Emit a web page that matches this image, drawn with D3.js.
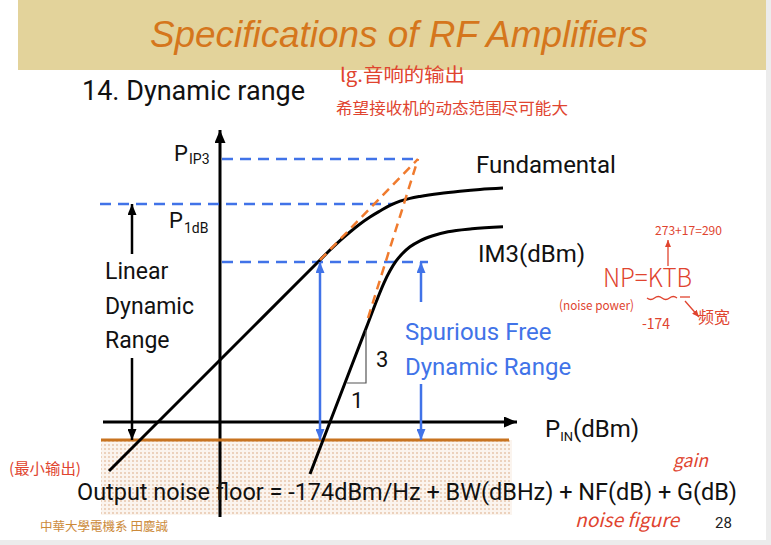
<!DOCTYPE html>
<html>
<head>
<meta charset="utf-8">
<script src="https://cdnjs.cloudflare.com/ajax/libs/d3/7.8.5/d3.min.js"></script>
<style>
  body { margin: 0; background: #fff; }
  svg { display: block; }
</style>
</head>
<body>
<div id="chart"></div>
<script>
// output power vs input power, both in dB units (conceptual sketch)
const fundamentalPin  = [-55.5, 0, 40, 50, 55, 60, 65, 70, 75, 80, 85, 90, 95, 100, 110, 120, 130, 141.5];
const fundamentalPout = [-15.5, 40, 80, 90, 95, 99.7, 104, 108, 111.5, 114.5, 117.3, 119.4, 120.8, 121.8, 123.3, 124.4, 125.3, 126];

const im3Pin  = [45, 60, 72, 76, 79, 82, 85, 88, 91, 95, 100, 106, 114, 126, 141.5];
const im3Pout = [-17, 22, 53.2, 63.6, 71.4, 78.6, 84.6, 89.4, 93, 96.6, 99.6, 102, 104.1, 105.6, 106.6];

// orange dashed extrapolations, meeting at the intercept point
const fundExtPin = [50, 99], fundExtPout = [90, 140.5];
const im3ExtPin  = [74, 99], im3ExtPout  = [61, 140.5];

// blue dashed levels: P_IP3, P_1dB, top of SFDR
const levelPout  = [140.5, 118, 89];
const levelStart = [1, -60, 1];
const levelEnd   = [100, 86.5, 104];

const noiseFloor = 0;
const axisPout = 9;

const W = 771, H = 545;
const x = d3.scaleLinear().domain([0, 100]).range([220, 420]);
const y = d3.scaleLinear().domain([0, 141]).range([440, 158]);

const BLUE = "#4173e8", ORANGE = "#f07b2e", FLOOR = "#c8731f", RED = "#e0442f";
const SANS = "Roboto, 'Liberation Sans', Arial, sans-serif";

const svg = d3.select("#chart").append("svg")
  .attr("width", W).attr("height", H);

const defs = svg.append("defs");
function addMarker(id, color, len, wid) {
  defs.append("marker")
    .attr("id", id)
    .attr("viewBox", `0 0 ${len} ${wid}`)
    .attr("refX", len).attr("refY", wid / 2)
    .attr("markerWidth", len).attr("markerHeight", wid)
    .attr("markerUnits", "userSpaceOnUse")
    .attr("orient", "auto")
    .append("path")
      .attr("d", `M0,0L${len},${wid / 2}L0,${wid}Z`)
      .attr("fill", color);
}
addMarker("arBlack", "#000", 13, 11);
addMarker("arSmall", "#000", 11, 9);
addMarker("arBlue", BLUE, 11, 9);
addMarker("arRed", RED, 7, 6);

// start-oriented copy of blue marker
defs.append("marker")
  .attr("id", "arBlueStart")
  .attr("viewBox", "0 0 11 9").attr("refX", 0).attr("refY", 4.5)
  .attr("markerWidth", 11).attr("markerHeight", 9)
  .attr("markerUnits", "userSpaceOnUse").attr("orient", "auto")
  .append("path").attr("d", "M11,0L0,4.5L11,9Z").attr("fill", BLUE);

const dots = defs.append("pattern")
  .attr("id", "dots").attr("width", 4).attr("height", 4)
  .attr("patternUnits", "userSpaceOnUse");
dots.append("rect").attr("width", 4).attr("height", 4).attr("fill", "#fbf4ee");
dots.append("circle").attr("cx", 1).attr("cy", 1).attr("r", 0.9).attr("fill", "#e6c2a6");

// slide background + frame
svg.append("rect").attr("width", W).attr("height", H).attr("fill", "#ececec");
svg.append("rect").attr("width", 766).attr("height", 540).attr("fill", "#fff");
svg.append("rect").attr("x", 18).attr("y", 0).attr("width", 748).attr("height", 70).attr("fill", "#e3d39b");

svg.append("text")
  .attr("x", 150).attr("y", 47)
  .attr("textLength", 498).attr("lengthAdjust", "spacingAndGlyphs")
  .style("font-family", "'Liberation Sans', Arial, sans-serif")
  .style("font-style", "italic").style("font-size", "37px")
  .attr("fill", "#d5761c")
  .text("Specifications of RF Amplifiers");

svg.append("text")
  .attr("x", 82).attr("y", 100)
  .style("font-family", SANS).style("font-size", "27px")
  .attr("fill", "#111")
  .text("14. Dynamic range");

// noise region below the floor
svg.append("rect")
  .attr("x", x(-59.5)).attr("y", y(noiseFloor))
  .attr("width", x(146) - x(-59.5)).attr("height", 515 - y(noiseFloor))
  .attr("fill", "url(#dots)");

// axes
svg.append("line")
  .attr("x1", x(0)).attr("x2", x(0))
  .attr("y1", y(-38.5)).attr("y2", y(155))
  .attr("stroke", "#000").attr("stroke-width", 3)
  .attr("marker-end", "url(#arBlack)");
svg.append("line")
  .attr("x1", x(-58.5)).attr("x2", x(148.5))
  .attr("y1", y(axisPout)).attr("y2", y(axisPout))
  .attr("stroke", "#000").attr("stroke-width", 3)
  .attr("marker-end", "url(#arBlack)");

// noise floor
svg.append("line")
  .attr("x1", x(-59.5)).attr("x2", x(144.5))
  .attr("y1", y(noiseFloor)).attr("y2", y(noiseFloor))
  .attr("stroke", FLOOR).attr("stroke-width", 3);

// blue dashed levels
svg.selectAll(".level")
  .data(levelPout)
  .enter().append("line")
    .attr("class", "level")
    .attr("x1", (d, i) => x(levelStart[i]))
    .attr("x2", (d, i) => x(levelEnd[i]))
    .attr("y1", d => y(d)).attr("y2", d => y(d))
    .attr("stroke", BLUE).attr("stroke-width", 2.5)
    .attr("stroke-dasharray", "11,7");

// curves
const line = d3.line()
  .x(d => x(d[0])).y(d => y(d[1]))
  .curve(d3.curveMonotoneX);

svg.append("path")
  .datum(fundamentalPin.map((p, i) => [p, fundamentalPout[i]]))
  .attr("d", line)
  .attr("fill", "none").attr("stroke", "#000").attr("stroke-width", 3);

svg.append("path")
  .datum(im3Pin.map((p, i) => [p, im3Pout[i]]))
  .attr("d", line)
  .attr("fill", "none").attr("stroke", "#000").attr("stroke-width", 3);

// orange extrapolations
const straight = d3.line().x(d => x(d[0])).y(d => y(d[1]));
[[fundExtPin, fundExtPout], [im3ExtPin, im3ExtPout]].forEach(([px, py]) => {
  svg.append("path")
    .datum(px.map((p, i) => [p, py[i]]))
    .attr("d", straight)
    .attr("fill", "none").attr("stroke", ORANGE).attr("stroke-width", 2.5)
    .attr("stroke-dasharray", "9,6");
});

// slope triangle
svg.append("path")
  .attr("d", `M${x(63.5)},${y(28.5)}L${x(73)},${y(28.5)}L${x(73)},${y(55)}`)
  .attr("fill", "none").attr("stroke", "#555").attr("stroke-width", 1.2);

function arrow(x1, y1, x2, y2, color, marker, both) {
  const l = svg.append("line")
    .attr("x1", x1).attr("y1", y1).attr("x2", x2).attr("y2", y2)
    .attr("stroke", color).attr("stroke-width", 2.5)
    .attr("marker-end", `url(#${marker})`);
  if (both) l.attr("marker-start", `url(#${marker}Start)`);
  return l;
}

// blue SFDR arrows
arrow(x(50), y(89), x(50), y(noiseFloor), BLUE, "arBlue", true);
arrow(x(100.5), y(69), x(100.5), y(89), BLUE, "arBlue");
arrow(x(100.5), y(28), x(100.5), y(noiseFloor), BLUE, "arBlue");

// linear dynamic range arrows
arrow(x(-44), y(93), x(-44), y(118), "#000", "arSmall");
arrow(x(-44), y(41), x(-44), y(noiseFloor), "#000", "arSmall");

// labels
function label(tx, ty, str, size, color, opts = {}) {
  const t = svg.append("text")
    .attr("x", tx).attr("y", ty)
    .style("font-family", opts.family || SANS)
    .style("font-size", size + "px")
    .attr("fill", color || "#111")
    .text(str);
  if (opts.italic) t.style("font-style", "italic");
  if (opts.len) t.attr("textLength", opts.len).attr("lengthAdjust", "spacingAndGlyphs");
  return t;
}

label(105, 279, "Linear", 23);
label(105, 314, "Dynamic", 23);
label(105, 348, "Range", 23);

label(174, 161, "P", 22);
label(189, 164, "IP3", 14);
label(169, 228, "P", 22);
label(184, 233, "1dB", 14);

label(476, 173, "Fundamental", 24);
label(478, 262, "IM3(dBm)", 24);

label(405, 340, "Spurious Free", 24, BLUE);
label(405, 375, "Dynamic Range", 24, BLUE);

label(376, 367, "3", 22);
label(351, 408, "1", 22);

// P_IN(dBm) as one text with a lowered subscript
const pin = svg.append("text")
  .attr("x", 545).attr("y", 437)
  .style("font-family", SANS).style("font-size", "24px")
  .attr("fill", "#111");
pin.append("tspan").text("P");
pin.append("tspan").attr("dy", 4).style("font-size", "13px").text("IN");
pin.append("tspan").attr("dy", -4).text("(dBm)");

label(77, 500, "Output noise floor = -174dBm/Hz + BW(dBHz) + NF(dB) + G(dB)", 24, "#111", { len: 660 });

label(715, 528, "28", 15, "#222");
label(40, 531, "中華大學電機系 田慶誠", 12, "#cc8a3a", { family: "'Noto Sans CJK TC', sans-serif", len: 128 });

// handwritten notes
const HAND = "'Noto Sans CJK SC', 'Noto Sans', sans-serif";
label(340, 82, "lg.音响的输出", 19, RED, { family: HAND, len: 125 });
label(336, 114, "希望接收机的动态范围尽可能大", 16, RED, { family: HAND, len: 232 });
label(9, 474, "(最小输出)", 15, RED, { family: HAND, len: 72 });
label(673, 467, "gain", 18, RED, { family: HAND, italic: true, len: 35 });
label(575, 527, "noise figure", 19, RED, { family: HAND, italic: true, len: 104 });

label(603, 287, "NP=KTB", 26, RED, { family: HAND, len: 89 }).style("font-weight", 300);
label(655, 235, "273+17=290", 12, RED, { family: HAND, len: 67 });
label(559, 310, "(noise power)", 13, RED, { family: HAND, len: 75 });
label(642, 329, "-174", 15, RED, { family: HAND, len: 28 });
label(698, 323, "频宽", 16, RED, { family: HAND, len: 32 });

svg.append("path")
  .attr("d", "M647,298q3.75,3 7.5,0t7.5,0t7.5,0t7.5,0")
  .attr("fill", "none").attr("stroke", RED).attr("stroke-width", 1.3);
svg.append("line").attr("x1", 680).attr("x2", 690).attr("y1", 297).attr("y2", 297)
  .attr("stroke", RED).attr("stroke-width", 1.3);
svg.append("line").attr("x1", 668).attr("x2", 668).attr("y1", 266).attr("y2", 240)
  .attr("stroke", RED).attr("stroke-width", 1.3).attr("marker-end", "url(#arRed)");
svg.append("line").attr("x1", 685).attr("x2", 699).attr("y1", 301).attr("y2", 317)
  .attr("stroke", RED).attr("stroke-width", 1.3).attr("marker-end", "url(#arRed)");
</script>
</body>
</html>
